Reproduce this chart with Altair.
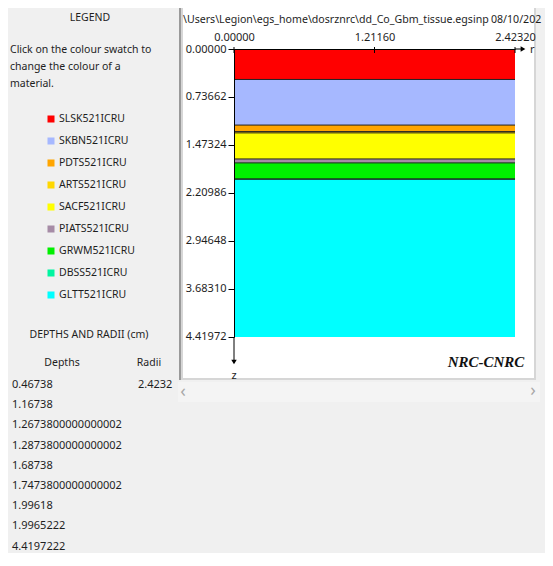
import altair as alt
import pandas as pd

# ---------------- data ----------------
materials = ["SLSK521ICRU", "SKBN521ICRU", "PDTS521ICRU", "ARTS521ICRU", "SACF521ICRU",
             "PIATS521ICRU", "GRWM521ICRU", "DBSS521ICRU", "GLTT521ICRU"]
colors = ["#ff0000", "#a6b8ff", "#ffa500", "#ffd700", "#ffff00",
          "#a68ca6", "#00f000", "#00f5a0", "#00ffff"]
depth_labels = ["0.46738", "1.16738", "1.2673800000000002", "1.2873800000000002", "1.68738",
                "1.7473800000000002", "1.99618", "1.9965222", "4.4197222"]
radii_labels = ["2.4232"]
r_ticks = [0.0, 1.2116, 2.4232]
z_ticks = [0.0, 0.73662, 1.47324, 2.20986, 2.94648, 3.68310, 4.41972]
paragraph = ["Click on the colour swatch to", "change the colour of a", "material."]
file_title = "\\Users\\Legion\\egs_home\\dosrznrc\\dd_Co_Gbm_tissue.egsinp"
date_title = "08/10/202"

depths = [float(d) for d in depth_labels]
radius = float(radii_labels[0])
tops = [0.0] + depths[:-1]

bands = pd.DataFrame({"material": materials, "z0": tops, "z1": depths,
                      "r0": [0.0] * len(materials), "r1": [radius] * len(materials)})
bounds = pd.DataFrame({"z": depths[:-1], "r0": 0.0, "r1": radius})
legend_df = pd.DataFrame({"material": materials, "i": list(range(len(materials)))})
depth_df = pd.DataFrame({"t": depth_labels, "i": list(range(len(depth_labels)))})
radii_df = pd.DataFrame({"t": radii_labels, "i": list(range(len(radii_labels)))})
para_df = pd.DataFrame({"t": paragraph, "i": list(range(len(paragraph)))})
rtick_df = pd.DataFrame({"r": r_ticks})

FONT = "Noto Sans"
TXT = "#1e1e1e"
NUM = 11      # font size for numbers
WRD = 10.5    # font size for words
W, H = 281, 288

xscale = alt.Scale(domain=[0, radius], nice=False, zero=False)
yscale = alt.Scale(domain=[0, depths[-1]], reverse=True, nice=False, zero=False)
cscale = alt.Scale(domain=materials, range=colors)

xaxis = alt.Axis(orient="top", values=r_ticks, format=".5f", title="", ticks=False,
                 domainColor="black", domainWidth=1, labelPadding=7, labelFlush=False,
                 grid=False, zindex=1, labelFont=FONT, labelFontSize=NUM, labelColor=TXT)
yaxis = alt.Axis(orient="left", values=z_ticks, format=".5f", title="", tickSize=6,
                 tickColor="black", domainColor="black", labelPadding=2, labelFlush=False,
                 grid=False, zindex=1, labelFont=FONT, labelFontSize=NUM, labelColor=TXT)

one = pd.DataFrame({"a": [0]})

def vrect(x, x2, y, y2, color, **kw):
    return alt.Chart(one).mark_rect(color=color, **kw).encode(
        x=alt.value(x), x2=alt.value(x2), y=alt.value(y), y2=alt.value(y2))

def vtext(txt, x, y, **kw):
    opts = dict(font=FONT, fontSize=WRD, color=TXT, align="left", baseline="middle")
    opts.update(kw)
    return alt.Chart(one).mark_text(**opts).encode(
        x=alt.value(x), y=alt.value(y), text=alt.value(txt))

# window frame
frame = vrect(-52, 301, -45, 330, "white", stroke="#d6d6d6", strokeWidth=2)
frame_left = alt.Chart(one).mark_rule(color="#9a9a9a", strokeWidth=2).encode(
    x=alt.value(-54), y=alt.value(-45), y2=alt.value(331))
scroll_strip = vrect(-56, 306, 333, 353, "#f4f4f4")

band_layer = alt.Chart(bands).mark_rect().encode(
    x=alt.X("r0:Q", scale=xscale, axis=xaxis),
    x2="r1:Q",
    y=alt.Y("z0:Q", scale=yscale, axis=yaxis),
    y2="z1:Q",
    color=alt.Color("material:N", scale=cscale, legend=None),
)
bound_layer = alt.Chart(bounds).mark_rule(color="#202020", strokeWidth=1).encode(
    x=alt.X("r0:Q", scale=xscale, axis=xaxis),
    x2="r1:Q",
    y=alt.Y("z:Q", scale=yscale, axis=yaxis),
)
rtick_layer = alt.Chart(rtick_df).mark_rule(color="black").encode(
    x=alt.X("r:Q", scale=xscale, axis=xaxis),
    y=alt.value(-2), y2=alt.value(4),
)

# axis arrows
r_ext = alt.Chart(one).mark_rule(color="black").encode(
    x=alt.value(W), x2=alt.value(290), y=alt.value(0))
r_head = alt.Chart(one).mark_point(shape="triangle-right", filled=True, size=30,
                                   color="black", opacity=1).encode(
    x=alt.value(289), y=alt.value(0))
z_ext = alt.Chart(one).mark_rule(color="black").encode(
    x=alt.value(0), y=alt.value(H), y2=alt.value(314))
z_head = alt.Chart(one).mark_point(shape="triangle-down", filled=True, size=30,
                                   color="black", opacity=1).encode(
    x=alt.value(0), y=alt.value(313))
r_lab = vtext("r", 296, 1, fontSize=NUM)
z_lab = vtext("z", 0, 327, align="center", fontSize=NUM)

nrc = vtext("NRC-CNRC", 252, 313, align="center", font="Liberation Serif",
            fontSize=15, fontWeight="bold", fontStyle="italic", color="#111111")
t_file = vtext(file_title, -51, -29, fontSize=10.6)
t_date = vtext(date_title, 257, -29, fontSize=10.6)

# left panel
t_legend = vtext("LEGEND", -144, -31, align="center")
para = alt.Chart(para_df).mark_text(font=FONT, fontSize=WRD, color=TXT, align="left",
                                     baseline="middle").transform_calculate(
    py="1 + 17 * datum.i").encode(
    x=alt.value(-224), y=alt.Y("py:Q", scale=None), text="t:N")
swatch = alt.Chart(legend_df).mark_square(size=49, opacity=1).transform_calculate(
    py="70 + 22 * datum.i").encode(
    x=alt.value(-183), y=alt.Y("py:Q", scale=None),
    color=alt.Color("material:N", scale=cscale, legend=None))
swatch_lab = alt.Chart(legend_df).mark_text(font=FONT, fontSize=WRD, color=TXT, align="left",
                                             baseline="middle").transform_calculate(
    py="70 + 22 * datum.i").encode(
    x=alt.value(-175), y=alt.Y("py:Q", scale=None), text="material:N")

t_dr = vtext("DEPTHS AND RADII (cm)", -145, 286, align="center")
t_dh = vtext("Depths", -172, 314, align="center")
t_rh = vtext("Radii", -85, 314, align="center")
depth_txt = alt.Chart(depth_df).mark_text(font=FONT, fontSize=NUM, color=TXT, align="left",
                                           baseline="middle").transform_calculate(
    py="336 + 20.2 * datum.i").encode(
    x=alt.value(-222), y=alt.Y("py:Q", scale=None), text="t:N")
radii_txt = alt.Chart(radii_df).mark_text(font=FONT, fontSize=NUM, color=TXT, align="left",
                                           baseline="middle").transform_calculate(
    py="336 + 20.2 * datum.i").encode(
    x=alt.value(-96), y=alt.Y("py:Q", scale=None), text="t:N")

# scroll arrows
arr_l = vtext("‹", -51, 343, align="center", fontSize=18, color="#a8a8a8")
arr_r = vtext("›", 299, 342, align="center", fontSize=18, color="#a8a8a8")

chart = alt.layer(
    frame, frame_left, scroll_strip,
    band_layer, bound_layer, rtick_layer,
    r_ext, r_head, z_ext, z_head, r_lab, z_lab, nrc, t_file, t_date,
    t_legend, para, swatch, swatch_lab, t_dr, t_dh, t_rh, depth_txt, radii_txt,
    arr_l, arr_r,
).properties(
    width=W, height=H,
    padding={"left": 226, "top": 41, "right": 30, "bottom": 216},
    autosize=alt.AutoSizeParams(type="none"),
).configure(background="#f0f0f0").configure_view(stroke="transparent")

chart.save("out.html", embed_options={"renderer": "svg", "actions": False})
